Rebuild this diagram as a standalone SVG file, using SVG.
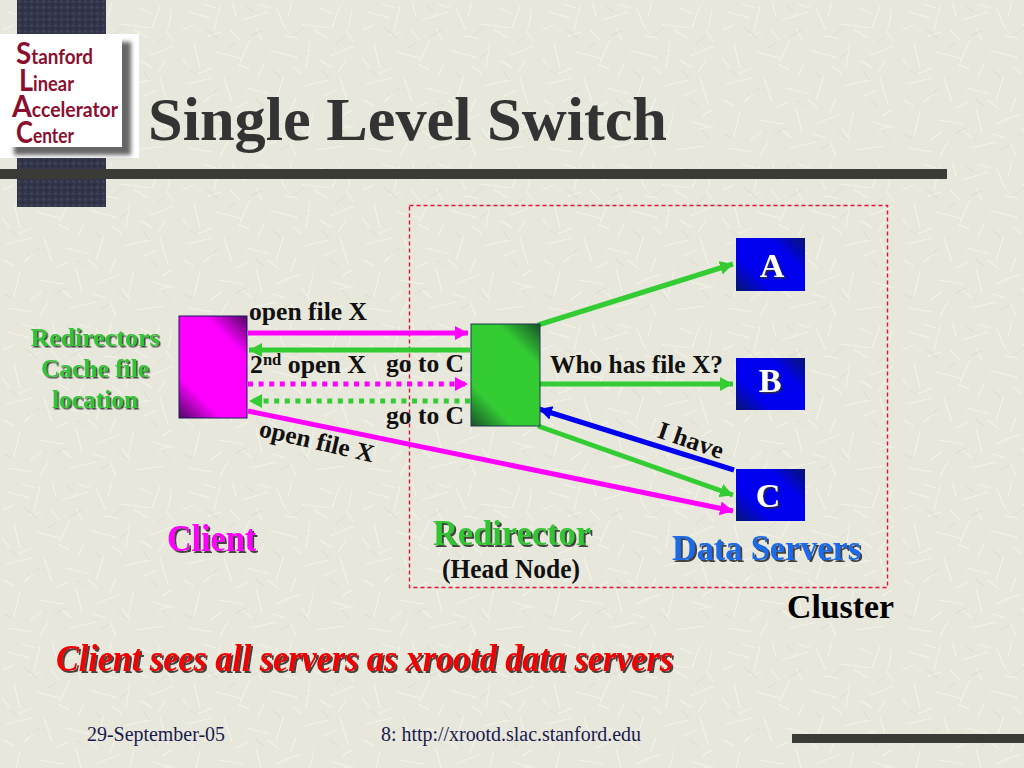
<svg xmlns="http://www.w3.org/2000/svg" width="1024" height="768" viewBox="0 0 1024 768">
<style>
text{font-family:"Liberation Serif","Times New Roman",serif;font-weight:bold;fill:#111}
.logo{font-family:"Lato","Liberation Sans",sans-serif;font-weight:bold;fill:#8a0f2e;font-size:21px}
.cap{font-size:31px}
.foot{font-weight:normal;font-size:20px;fill:#1a1a50}
.lab{font-size:25px}
.box{fill:#fff;font-size:34px;text-anchor:middle;filter:url(#ds)}
.hd{text-anchor:middle;filter:url(#ds2)}
.side{font-size:25px;text-anchor:middle;fill:#33c433;filter:url(#ds)}
.ln{fill:none;stroke-width:5}
.g{stroke:#33cc33}.m{stroke:#ff00ff}.b{stroke:#0000ee}
.dot{stroke-dasharray:5 5.6}
</style>
<defs>
<pattern id="tex" width="180" height="160" patternUnits="userSpaceOnUse">
<rect width="180" height="160" fill="#e7e7db"/>
<g stroke="#f3f3ea" stroke-width="1.1" fill="none">
<path d="M8 12l22 6M40 6l-6 24M62 20l26-8M96 8l10 22M120 24l30 4M160 6l-8 22M14 44l6 24M36 52l24 6M70 40l-10 22M90 50l28 8M130 42l-4 26M150 56l24-10M6 84l26-6M44 78l8 24M66 88l24 6M104 76l-8 24M124 86l26-6M160 78l8 26M20 112l-6 24M38 120l26 4M76 108l6 24M96 124l24-10M134 110l-6 26M152 122l22 6M8 148l24 4M48 142l-8 14M70 148l26-6M110 142l6 14M136 150l28-4"/>
<path d="M2 30l12-5M22 4l14 4M52 2l4 14M78 4l12 4M112 2l-4 14M140 8l12 6M172 10l-4 18M2 58l8 10M28 36l14-4M50 30l10 10M76 28l6 12M104 36l14 2M134 30l14 8M166 30l8 12M18 74l14-6M34 92l-10 10M58 64l12 6M84 64l-6 12M112 66l10 8M140 60l12 8M166 60l-8 12M4 100l10 6M56 108l12-6M88 100l10 8M116 98l-6 14M144 96l12-6M172 110l-10 6M30 140l12-8M62 130l10 8M92 134l14 4M122 128l8 12M158 130l12-4"/>
</g>
<g stroke="#dadacd" stroke-width=".9" fill="none">
<path d="M24 28l14 10M82 30l-12 6M112 36l12-8M166 36l-10 8M28 96l12-8M92 70l10 8M142 70l8 10M54 134l12-6M118 132l10 8M170 140l-8-10M10 70l8 6M48 48l8-6M76 100l8 6M120 58l8-6M4 134l8 4M100 150l10-6M150 100l8 6M66 6l8 6"/>
</g>
</pattern>
<pattern id="dark" width="6" height="6" patternUnits="userSpaceOnUse">
<rect width="6" height="6" fill="#33364a"/>
<circle cx="1.500" cy="1.500" r="1" fill="#4a4d66"/><circle cx="4.500" cy="4.500" r="1" fill="#24263a"/>
</pattern>
<linearGradient id="gm" gradientUnits="userSpaceOnUse" x1="247" y1="316" x2="162" y2="401">
<stop offset="0" stop-color="#4a0a60"/><stop offset=".25" stop-color="#ff00ff"/><stop offset=".75" stop-color="#ff00ff"/><stop offset="1" stop-color="#4a0a60"/>
</linearGradient>
<linearGradient id="gg" gradientUnits="userSpaceOnUse" x1="540" y1="324" x2="454.500" y2="409.500">
<stop offset="0" stop-color="#185028"/><stop offset=".25" stop-color="#33cc33"/><stop offset=".75" stop-color="#33cc33"/><stop offset="1" stop-color="#185028"/>
</linearGradient>
<linearGradient id="gba" gradientUnits="userSpaceOnUse" x1="805" y1="238" x2="744.500" y2="298.500">
<stop offset="0" stop-color="#061470"/><stop offset=".3" stop-color="#0000ee"/><stop offset=".7" stop-color="#0000ee"/><stop offset="1" stop-color="#061470"/>
</linearGradient>
<linearGradient id="gbb" href="#gba" x1="805" y1="358" x2="744.500" y2="418.500"/>
<linearGradient id="gbc" href="#gba" x1="805" y1="469" x2="744.500" y2="529.500"/>
<filter id="ds" x="-20%" y="-20%" width="140%" height="140%"><feDropShadow dx="1.500" dy="1.500" stdDeviation=".6" flood-color="#333" flood-opacity=".9"/></filter>
<filter id="ds2" x="-20%" y="-20%" width="140%" height="140%"><feDropShadow dx="2" dy="2" stdDeviation=".5" flood-color="#333" flood-opacity=".9"/></filter>
<filter id="lg" x="-20%" y="-20%" width="140%" height="140%"><feGaussianBlur stdDeviation="2"/></filter>
<marker id="ag" markerUnits="userSpaceOnUse" markerWidth="16" markerHeight="16" refX="13" refY="7" orient="auto"><path d="M0 0L13 7L0 14z" fill="#33cc33"/></marker>
<marker id="am" markerUnits="userSpaceOnUse" markerWidth="16" markerHeight="16" refX="13" refY="7" orient="auto"><path d="M0 0L13 7L0 14z" fill="#ff00ff"/></marker>
<marker id="ab" markerUnits="userSpaceOnUse" markerWidth="16" markerHeight="16" refX="13" refY="7" orient="auto"><path d="M0 0L13 7L0 14z" fill="#0000ee"/></marker>
</defs>
<rect width="1024" height="768" fill="url(#tex)"/>
<g id="decor">
<rect x="17" y="0" width="89" height="34" fill="url(#dark)"/>
<rect x="17" y="158" width="89" height="49" fill="url(#dark)"/>
<rect x="0" y="169" width="947" height="10" fill="#3a3a36"/>
<rect x="792" y="734" width="232" height="9" fill="#3a3a36"/>
</g>
<g id="logo">
<rect x="0" y="34" width="139" height="124" fill="#fff"/>
<rect x="14" y="42" width="117" height="113" fill="#666" filter="url(#lg)"/>
<rect x="0" y="34" width="122" height="113" fill="#fff"/>
<text class="logo" x="16" y="64" textLength="77" lengthAdjust="spacingAndGlyphs"><tspan class="cap">S</tspan>tanford</text>
<text class="logo" x="19" y="91" textLength="55" lengthAdjust="spacingAndGlyphs"><tspan class="cap">L</tspan>inear</text>
<text class="logo" x="12" y="117" textLength="106" lengthAdjust="spacingAndGlyphs"><tspan class="cap">A</tspan>ccelerator</text>
<text class="logo" x="16" y="143" textLength="58" lengthAdjust="spacingAndGlyphs"><tspan class="cap">C</tspan>enter</text>
</g>
<text id="title" x="148" y="140" font-size="62" textLength="519" lengthAdjust="spacingAndGlyphs" style="fill:#333">Single Level Switch</text>
<rect id="cluster" x="409.500" y="205.500" width="478" height="382" fill="none" stroke="#e8103a" stroke-width="1.400" stroke-dasharray="4 3"/>
<g id="connectors">
<path class="ln m" d="M248 333H468" marker-end="url(#am)"/>
<path class="ln g" d="M470 350H249" marker-end="url(#ag)"/>
<path class="ln m dot" d="M248 384H468" marker-end="url(#am)"/>
<path class="ln g dot" d="M470 401H249" marker-end="url(#ag)"/>
<path class="ln m" d="M248 411L733 511" marker-end="url(#am)"/>
<path class="ln g" d="M538 325L733 264" marker-end="url(#ag)"/>
<path class="ln g" d="M540 384H733" marker-end="url(#ag)"/>
<path class="ln g" d="M538 426L733 495" marker-end="url(#ag)"/>
<path class="ln b" d="M734 470L539 409" marker-end="url(#ab)"/>
</g>
<g id="client"><rect x="179" y="316" width="68" height="102" fill="url(#gm)" stroke="#1a1a60" stroke-width="1"/></g>
<g id="redirector"><rect x="471" y="324" width="69" height="102" fill="url(#gg)" stroke="#1a3a50" stroke-width="1"/></g>
<g id="node-a"><rect x="736" y="238" width="69" height="53" fill="url(#gba)"/><text class="box" x="772" y="277">A</text></g>
<g id="node-b"><rect x="736" y="358" width="69" height="52" fill="url(#gbb)"/><text class="box" x="770" y="392">B</text></g>
<g id="node-c"><rect x="736" y="469" width="69" height="52" fill="url(#gbc)"/><text class="box" x="768" y="507">C</text></g>
<g id="labels">
<text class="lab" x="249" y="320" textLength="118" lengthAdjust="spacingAndGlyphs">open file X</text>
<text class="lab" x="250" y="373" textLength="116" lengthAdjust="spacingAndGlyphs">2<tspan font-size="16" dy="-8">nd</tspan><tspan dy="8"> open X</tspan></text>
<text class="lab" x="386" y="372" textLength="78" lengthAdjust="spacingAndGlyphs">go to C</text>
<text class="lab" x="386" y="424" textLength="78" lengthAdjust="spacingAndGlyphs">go to C</text>
<text class="lab" transform="translate(258 436) rotate(13)" textLength="117" lengthAdjust="spacingAndGlyphs">open file X</text>
<text class="lab" x="550" y="373" textLength="173" lengthAdjust="spacingAndGlyphs">Who has file X?</text>
<text class="lab" transform="translate(656 437) rotate(19)" textLength="68" lengthAdjust="spacingAndGlyphs">I have</text>
<text class="side" x="95" y="346" textLength="129" lengthAdjust="spacingAndGlyphs">Redirectors</text>
<text class="side" x="95" y="377" textLength="108" lengthAdjust="spacingAndGlyphs">Cache file</text>
<text class="side" x="95" y="408" textLength="86" lengthAdjust="spacingAndGlyphs">location</text>
<text class="hd" x="211.500" y="551" font-size="38" textLength="89" lengthAdjust="spacingAndGlyphs" style="fill:#ff00ff">Client</text>
<text class="hd" x="512" y="545" font-size="35" textLength="158" lengthAdjust="spacingAndGlyphs" style="fill:#33c433">Redirector</text>
<text x="511" y="578" font-size="27" text-anchor="middle" textLength="138" lengthAdjust="spacingAndGlyphs">(Head Node)</text>
<text class="hd" x="766.500" y="560" font-size="36" textLength="189" lengthAdjust="spacingAndGlyphs" style="fill:#1a6ae8">Data Servers</text>
<text x="787" y="618" font-size="34" textLength="107" lengthAdjust="spacingAndGlyphs" style="fill:#000">Cluster</text>
<text x="56" y="671" font-size="38" font-style="italic" textLength="617" lengthAdjust="spacingAndGlyphs" filter="url(#ds2)" style="fill:#f00000">Client sees all servers as xrootd data servers</text>
<text class="foot" x="87" y="741" textLength="138" lengthAdjust="spacingAndGlyphs">29-September-05</text>
<text class="foot" x="381" y="741" textLength="260" lengthAdjust="spacingAndGlyphs">8: http://xrootd.slac.stanford.edu</text>
</g>
</svg>
